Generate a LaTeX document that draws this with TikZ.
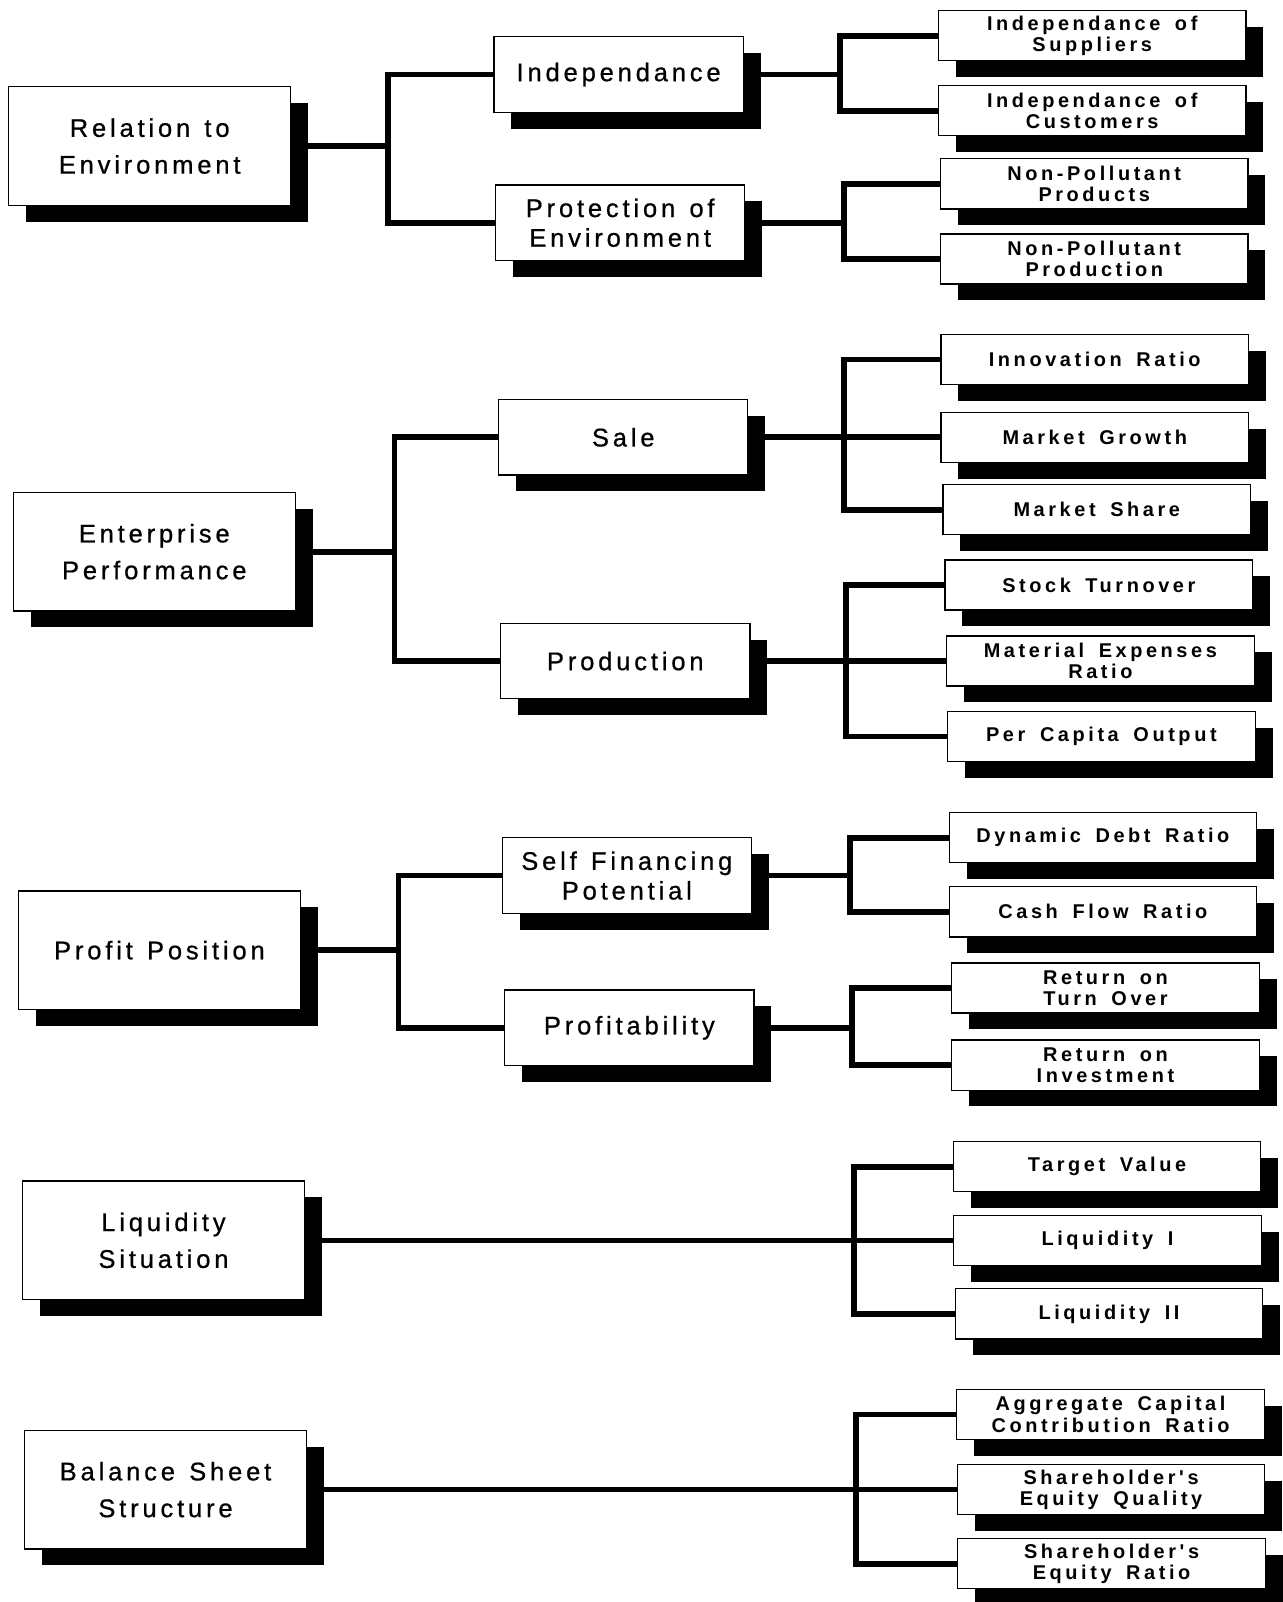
\documentclass[tikz,border=0pt]{standalone}
\usepackage{fontspec}
\usetikzlibrary{shadows}
\newfontfamily\topfont[LetterSpace=15,WordSpace=1.3,FakeBold=0.7]{Liberation Sans}
\newfontfamily\leaffont[LetterSpace=18,WordSpace=1.6]{Liberation Sans}

\begin{document}
\begin{tikzpicture}[x=1pt,y=-1pt,line join=miter]
    \tikzstyle{box}=[draw=black, line width=1.2pt, fill=white, rectangle, align=center, inner sep=0pt,
      drop shadow={shadow xshift=17pt, shadow yshift=-16pt, fill=black, opacity=1}]
    \tikzstyle{top}=[style=box, minimum width=276pt, minimum height=116pt, font=\topfont\fontsize{25}{36}\selectfont]
    \tikzstyle{mid}=[style=box, minimum width=244pt, minimum height=74pt, font=\topfont\fontsize{25}{29}\selectfont]
    \tikzstyle{leaf}=[style=box, minimum width=301pt, minimum height=49pt, font=\leaffont\bfseries\fontsize{19.5}{21}\selectfont]
    \tikzstyle{link}=[draw=black, line width=5.5pt]

    \useasboundingbox (0,0) rectangle (1255,1568);

    % first level
    \node[top] (rel)  at (146.5,143)  {Relation to\\Environment};
    \node[top] (ent)  at (151,540)    {Enterprise\\Performance};
    \node[top] (prof) at (156,930)    {Profit Position};
    \node[top] (liq)  at (160,1214)   {Liquidity\\Situation};
    \node[top] (bal)  at (162,1458)   {Balance Sheet\\Structure};

    % second level
    \node[mid] (ind)   at (605.5,73)   {Independance};
    \node[mid] (prot)  at (607,218)    {Protection of\\Environment};
    \node[mid] (sale)  at (610,428)    {Sale};
    \node[mid] (prodn) at (612,647)    {Production};
    \node[mid] (sfp)   at (613.5,857)  {Self Financing\\Potential};
    \node[mid] (pfy)   at (616,1006)   {Profitability};

    % indicators
    \node[leaf] (sup) at (1069,35)     {Independance of\\Suppliers};
    \node[leaf] (cus) at (1069,108.5)  {Independance of\\Customers};
    \node[leaf] (npp) at (1071,180)    {Non-Pollutant\\Products};
    \node[leaf] (npn) at (1071,253.5)  {Non-Pollutant\\Production};
    \node[leaf] (inn) at (1071.5,352)  {Innovation Ratio};
    \node[leaf] (mg)  at (1071.5,428)  {Market Growth};
    \node[leaf] (ms)  at (1073.5,499)  {Market Share};
    \node[leaf] (st)  at (1075.5,572.5){Stock Turnover};
    \node[leaf] (mer) at (1077,647)    {Material Expenses\\Ratio};
    \node[leaf] (pco) at (1078,721)    {Per Capita Output};
    \node[leaf] (ddr) at (1079.5,820)  {Dynamic Debt Ratio};
    \node[leaf] (cfr) at (1079.5,892.5){Cash Flow Ratio};
    \node[leaf] (rto) at (1082,967)    {Return on\\Turn Over};
    \node[leaf] (roi) at (1082,1042.5) {Return on\\Investment};
    \node[leaf] (tv)  at (1083.5,1142) {Target Value};
    \node[leaf] (l1)  at (1084,1214)   {Liquidity I};
    \node[leaf] (l2)  at (1085.5,1286) {Liquidity II};
    \node[leaf] (acc) at (1087,1384.5) {Aggregate Capital\\Contribution Ratio};
    \node[leaf] (seq) at (1087.5,1458) {Shareholder's\\Equity Quality};
    \node[leaf] (ser) at (1088,1530.5) {Shareholder's\\Equity Ratio};

    % junctions
    \coordinate (jrel)   at (380,143);
    \coordinate (jent)   at (386,540);
    \coordinate (jprof)  at (390,930);
    \coordinate (jind)   at (822,73);
    \coordinate (jprot)  at (826,218);
    \coordinate (jsale)  at (826,428);
    \coordinate (jprodn) at (828,647);
    \coordinate (jsfp)   at (832,857);
    \coordinate (jpfy)   at (834,1006);
    \coordinate (jliq)   at (836,1214);
    \coordinate (jbal)   at (838,1458);

    \draw[link] (rel.east) -- (jrel);
    \draw[link] (ind.west) -| (jrel) |- (prot.west);
    \draw[link] (ent.east) -- (jent);
    \draw[link] (sale.west) -| (jent) |- (prodn.west);
    \draw[link] (prof.east) -- (jprof);
    \draw[link] (sfp.west) -| (jprof) |- (pfy.west);

    \draw[link] (ind.east) -- (jind);
    \draw[link] (sup.west) -| (jind) |- (cus.west);
    \draw[link] (prot.east) -- (jprot);
    \draw[link] (npp.west) -| (jprot) |- (npn.west);
    \draw[link] (sale.east) -- (mg.west);
    \draw[link] (inn.west) -| (jsale) |- (ms.west);
    \draw[link] (prodn.east) -- (mer.west);
    \draw[link] (st.west) -| (jprodn) |- (pco.west);
    \draw[link] (sfp.east) -- (jsfp);
    \draw[link] (ddr.west) -| (jsfp) |- (cfr.west);
    \draw[link] (pfy.east) -- (jpfy);
    \draw[link] (rto.west) -| (jpfy) |- (roi.west);
    \draw[link] (liq.east) -- (l1.west);
    \draw[link] (tv.west) -| (jliq) |- (l2.west);
    \draw[link] (bal.east) -- (seq.west);
    \draw[link] (acc.west) -| (jbal) |- (ser.west);
\end{tikzpicture}
\end{document}
